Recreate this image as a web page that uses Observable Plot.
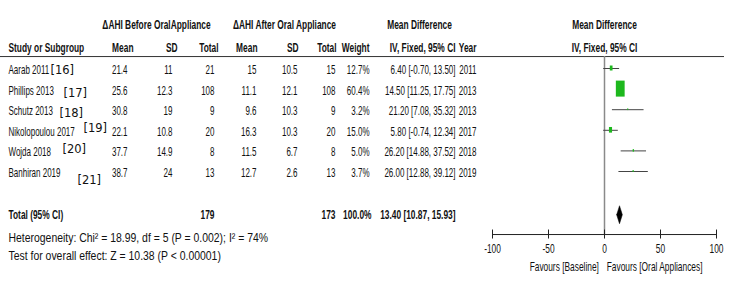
<!DOCTYPE html>
<html><head><meta charset="utf-8">
<script src="https://cdn.jsdelivr.net/npm/d3@7"></script>
<script src="https://cdn.jsdelivr.net/npm/@observablehq/plot@0.6"></script>
<style>body{margin:0;background:#fff}</style>
</head><body><div id="chart"></div>
<script>
// ---- data ----
const studies = ["Aarab 2011", "Phillips 2013", "Schutz 2013", "Nikolopoulou 2017", "Wojda 2018", "Banhiran 2019"];
const refs = ["[16]", "[17]", "[18]", "[19]", "[20]", "[21]"];
const beforeMean = [21.4, 25.6, 30.8, 22.1, 37.7, 38.7];
const beforeSD = [11, 12.3, 19, 10.8, 14.9, 24];
const beforeN = [21, 108, 9, 20, 8, 13];
const afterMean = [15, 11.1, 9.6, 16.3, 11.5, 12.7];
const afterSD = [10.5, 12.1, 10.3, 10.3, 6.7, 2.6];
const afterN = [15, 108, 9, 20, 8, 13];
const weights = [12.7, 60.4, 3.2, 15.0, 5.0, 3.7];
const meanDiff = [6.40, 14.50, 21.20, 5.80, 26.20, 26.00];
const ciLow = [-0.70, 11.25, 7.08, -0.74, 14.88, 12.88];
const ciHigh = [13.50, 17.75, 35.32, 12.34, 37.52, 39.12];
const years = [2011, 2013, 2013, 2017, 2018, 2019];
const total = {label: "Total (95% CI)", nBefore: 179, nAfter: 173, weight: 100.0, md: 13.40, lo: 10.87, hi: 15.93};
const heterogeneity = "Heterogeneity: Chi² = 18.99, df = 5 (P = 0.002); I² = 74%";
const overallTest = "Test for overall effect: Z = 10.38 (P < 0.00001)";
const axisTicks = [-100, -50, 0, 50, 100];
const favoursLeft = "Favours [Baseline]";
const favoursRight = "Favours [Oral Appliances]";

// ---- layout (not data) ----
const FONT = '"Liberation Sans", Arial, sans-serif';
const ROW = 20.6;              // px per row
const PXU = 224 / 200;         // px per x unit
const refX = [50, 63, 59, 83, 62, 77];
const refDy = [0, 2.6, 2.3, -3.6, -2.9, 7.5];
const HDR1 = -2.1, HDR2 = -1, HDR_RULE = -0.58, TOTAL = 7.1, AXIS = 8.06, TICKLAB = 8.74, HET = 8.25, TEST = 9.13, FAV = 9.66;
const px2x = p => (p - 604) / PXU;

const rows = studies.map((s, i) => ({
  i, study: s, ref: refs[i], bm: beforeMean[i], bsd: beforeSD[i], bn: beforeN[i],
  am: afterMean[i], asd: afterSD[i], an: afterN[i], w: weights[i],
  md: meanDiff[i], lo: ciLow[i], hi: ciHigh[i], year: years[i]
}));
const fmtCI = (m, l, h) => `${m.toFixed(2)} [${l.toFixed(2)}, ${h.toFixed(2)}]`;
const boxH = w => 16 * Math.pow(w / 60.4, 0.75);
const boxW = w => boxH(w) * 0.55;

// className encodes the horizontal squeeze (Arial -> narrow look)
const base = {fontFamily: FONT, fontSize: 12.5, fill: "#111", className: "sq64"};
const col = (dx, key, opts = {}) => Plot.text(rows, {y: "i", frameAnchor: "left", dx, dy: 1.5,
  text: typeof key === "function" ? key : d => String(d[key]), textAnchor: "end", ...base, ...opts});
const lab = (y, dx, text, anchor, opts = {}) => Plot.text([text], {y, frameAnchor: "left", dx, text: d => d, textAnchor: anchor, ...base, ...opts});
const B = {fontWeight: "bold", className: "sq67"};
const A = {className: "sq67"};

const diamond = [
  {x: total.lo, y: TOTAL}, {x: total.md, y: TOTAL - 9 / ROW}, {x: total.hi, y: TOTAL},
  {x: total.md, y: TOTAL + 9 / ROW}, {x: total.lo, y: TOTAL}
];

const chart = Plot.plot({
  width: 750, height: 282, margin: 0,
  x: {domain: [-100, 100], range: [492, 716], axis: null},
  y: {domain: [0, 5], range: [68, 68 + 5 * ROW], axis: null},
  style: {fontFamily: FONT, background: "#fff"},
  marks: [
    // header
    lab(HDR1, 156, "ΔAHI Before OralAppliance", "middle", B),
    lab(HDR1, 284, "ΔAHI After Oral Appliance", "middle", B),
    lab(HDR1, 419, "Mean Difference", "middle", B),
    Plot.text(["Mean Difference"], {x: 0, y: HDR1, text: d => d, ...base, ...B}),
    lab(HDR2, 8, "Study or Subgroup", "start", B),
    lab(HDR2, 133, "Mean", "end", B),
    lab(HDR2, 177, "SD", "end", B),
    lab(HDR2, 218, "Total", "end", B),
    lab(HDR2, 257, "Mean", "end", B),
    lab(HDR2, 298, "SD", "end", B),
    lab(HDR2, 336, "Total", "end", B),
    lab(HDR2, 369, "Weight", "end", B),
    lab(HDR2, 455, "IV, Fixed, 95% CI", "end", B),
    lab(HDR2, 476, "Year", "end", B),
    Plot.text(["IV, Fixed, 95% CI"], {x: 0, y: HDR2, text: d => d, ...base, ...B}),
    Plot.ruleY([HDR_RULE], {x1: px2x(0), x2: px2x(724), stroke: "#333", strokeWidth: 1}),
    // study rows
    Plot.text(rows, {y: "i", frameAnchor: "left", dx: 8, dy: 1.5, text: "study", textAnchor: "start", ...base}),
    ...rows.map((r, i) => Plot.text([r], {y: "i", frameAnchor: "left", dx: refX[i], dy: 1.5 + refDy[i], text: "ref",
      textAnchor: "start", fontFamily: "DejaVu Sans", fontSize: 11.5, fill: "#111"})),
    col(127, "bm"), col(172, "bsd"), col(214, "bn"),
    col(256, "am"), col(297, "asd"), col(335, "an"),
    col(369, d => d.w.toFixed(1) + "%"),
    col(455, d => fmtCI(d.md, d.lo, d.hi)),
    col(476, "year"),
    // total row
    lab(TOTAL, 8, total.label, "start", B),
    lab(TOTAL, 214, String(total.nBefore), "end", B),
    lab(TOTAL, 335, String(total.nAfter), "end", B),
    lab(TOTAL, 371, total.weight.toFixed(1) + "%", "end", B),
    lab(TOTAL, 455, fmtCI(total.md, total.lo, total.hi), "end", B),
    lab(HET, 8, heterogeneity, "start", {fontSize: 12, className: "sq87"}),
    lab(TEST, 8, overallTest, "start", {fontSize: 12, className: "sq87"}),
    // forest
    Plot.ruleX([0], {y1: HDR_RULE, y2: AXIS, stroke: "#8a8a8a", strokeWidth: 1.5}),
    Plot.ruleY(rows, {y: "i", x1: "lo", x2: "hi", stroke: "#444", strokeWidth: 1}),
    Plot.rect(rows, {
      x1: d => d.md - boxW(d.w) / 2 / PXU, x2: d => d.md + boxW(d.w) / 2 / PXU,
      y1: d => d.i - boxH(d.w) / 2 / ROW, y2: d => d.i + boxH(d.w) / 2 / ROW,
      fill: "#1db81d"
    }),
    Plot.line(diamond, {x: "x", y: "y", fill: "#000", stroke: "#000", strokeWidth: 0.5}),
    Plot.ruleY([AXIS], {x1: axisTicks[0], x2: axisTicks[axisTicks.length - 1], stroke: "#222"}),
    Plot.ruleX(axisTicks, {x: d => d, y1: AXIS - 4.5 / ROW, y2: AXIS + 4.5 / ROW, stroke: "#222"}),
    Plot.text(axisTicks, {x: d => d, y: TICKLAB, text: d => String(d), ...base, ...A}),
    Plot.text([favoursLeft], {x: -5, y: FAV, text: d => d, textAnchor: "end", ...base, ...A}),
    Plot.text([favoursRight], {x: 2, y: FAV, text: d => d, textAnchor: "start", ...base, ...A})
  ]
});
document.getElementById("chart").appendChild(chart);

// squeeze the Arial-metric text horizontally, about each text's own anchor, to mimic the narrow face
const SQUEEZE = {sq64: 0.64, sq67: 0.67, sq87: 0.87};
Object.entries(SQUEEZE).forEach(([cls, s]) => {
  chart.querySelectorAll(`g.${cls} text`).forEach(t => {
    const tr = t.getAttribute("transform");
    if (tr) {
      t.setAttribute("transform", tr + ` scale(${s},1)`);
    } else {
      const x = +(t.getAttribute("x") || 0), y = +(t.getAttribute("y") || 0);
      t.removeAttribute("x"); t.removeAttribute("y");
      t.setAttribute("transform", `translate(${x},${y}) scale(${s},1)`);
    }
  });
});
</script>
</body></html>
